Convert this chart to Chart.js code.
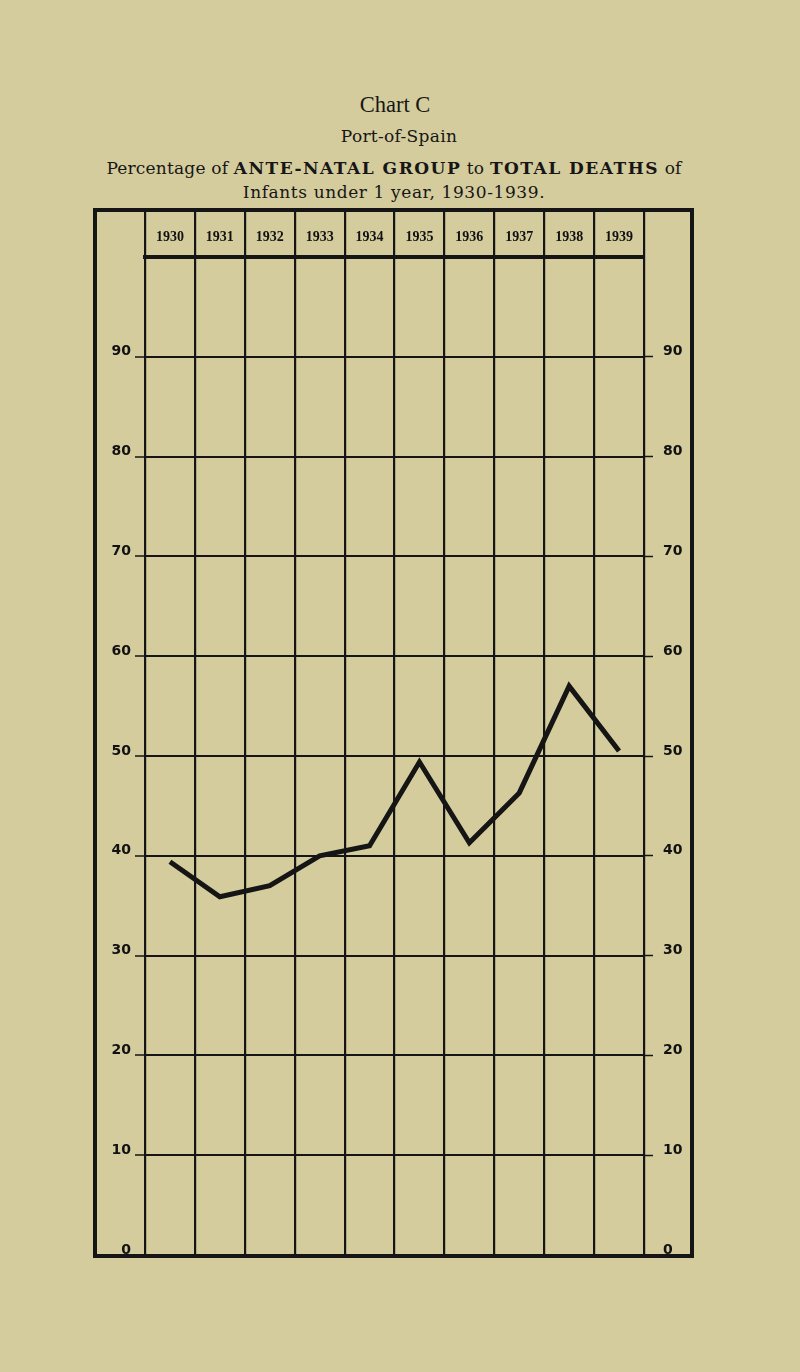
<!DOCTYPE html>
<html>
<head>
<meta charset="utf-8">
<script src="https://cdn.jsdelivr.net/npm/chart.js@4/dist/chart.umd.min.js"></script>
<style>
  html, body { margin: 0; padding: 0; }
  body { width: 800px; height: 1372px; background: #d4cc9c; position: relative; overflow: hidden; color: #161616; }
  .line { position: absolute; width: 800px; text-align: center; white-space: nowrap; }
  #t1 { top: 93px; left: -5px; font: 22.5px/24px "Liberation Serif", serif; }
  #t2 { top: 126px; left: -1px; font: 17px/20px "DejaVu Serif", serif; letter-spacing: 0.3px; }
  #t3 { top: 158px; left: -6px; font: 17px/20px "DejaVu Serif", serif; letter-spacing: 0.2px; }
  #t4 { top: 182px; left: -6px; font: 17px/20px "DejaVu Serif", serif; letter-spacing: 0.6px; }
  #t3 b { font-weight: bold; letter-spacing: 1.5px; }
  #box { position: absolute; left: 93px; top: 208px; width: 593px; height: 1042px; border: 4px solid #151515; }
  #antenatalChart { position: absolute; left: 0; top: 0; }
</style>
</head>
<body>
<div class="line" id="t1">Chart C</div>
<div class="line" id="t2">Port-of-Spain</div>
<div class="line" id="t3">Percentage of <b>ANTE-NATAL GROUP</b> to <b>TOTAL DEATHS</b> of</div>
<div class="line" id="t4">Infants under 1 year, 1930-1939.</div>
<div id="box">
  <canvas id="antenatalChart" width="593" height="1043" style="width:593px;height:1043px"></canvas>
</div>
<script>
// chart data
const years = ['1930', '1931', '1932', '1933', '1934', '1935', '1936', '1937', '1938', '1939'];
const antenatalPct = [39.4, 35.9, 37.0, 40.0, 41.0, 49.4, 41.3, 46.3, 57.0, 50.5];
const tickLabels = [0, 10, 20, 30, 40, 50, 60, 70, 80, 90];

const ink = '#151515';

// hide the tick mark on the 100 line (header edge) and the 0 line (box edge)
let tickColorFor = function (ctx) {
  if (ctx.tick && tickLabels.includes(ctx.tick.value) && ctx.tick.value !== 0) {
    return ink;
  }
  return 'rgba(0,0,0,0)';
};
let labelFor = function (value) {
  return tickLabels.includes(value) ? String(value) : '';
};

const yFont = { family: 'DejaVu Sans', size: 14, weight: 'bold' };

const config = {
  type: 'line',
  data: {
    labels: years,
    datasets: [{
      label: 'Ante-natal group %',
      data: antenatalPct,
      borderColor: ink,
      borderWidth: 5,
      pointRadius: 0,
      tension: 0,
      fill: false,
      borderJoinStyle: 'miter',
      borderCapStyle: 'butt',
      xAxisID: 'x',
      yAxisID: 'y'
    }]
  },
  options: {
    responsive: false,
    animation: false,
    events: [],
    layout: { padding: 0 },
    plugins: {
      legend: { display: false },
      tooltip: { enabled: false }
    },
    scales: {
      x: {
        type: 'category',
        position: 'top',
        offset: true,
        grid: { offset: true, color: ink, lineWidth: 2.2, tickLength: 45, tickWidth: 2.2 },
        border: { display: true, color: ink, width: 4 },
        ticks: {
          font: { family: 'Liberation Serif', size: 14, weight: 'bold' },
          color: '#111',
          padding: -34,
          maxRotation: 0,
          autoSkip: false
        },
        afterFit: function (scale) {
          scale.height = 45;
          scale.paddingLeft = 0;
          scale.paddingRight = 0;
        }
      },
      y: {
        type: 'linear',
        position: 'left',
        min: 0,
        max: 100,
        grid: { color: ink, lineWidth: 2, tickLength: 10, tickWidth: 1.5, tickColor: tickColorFor },
        border: { display: false },
        ticks: { stepSize: 10, font: yFont, color: '#111', padding: 4, labelOffset: -5, callback: labelFor },
        afterFit: function (scale) {
          scale.width = 48;
          scale.paddingTop = 0;
          scale.paddingBottom = 0;
        }
      },
      y2: {
        type: 'linear',
        position: 'right',
        min: 0,
        max: 100,
        grid: { drawOnChartArea: false, tickLength: 9, tickWidth: 1.5, tickColor: tickColorFor },
        border: { display: false },
        ticks: { stepSize: 10, font: yFont, color: '#111', padding: 10, labelOffset: -5, callback: labelFor },
        afterFit: function (scale) {
          scale.width = 46;
          scale.paddingTop = 0;
          scale.paddingBottom = 0;
        }
      }
    }
  }
};

let antenatalChart = new Chart(document.getElementById('antenatalChart'), config);
</script>
</body>
</html>
